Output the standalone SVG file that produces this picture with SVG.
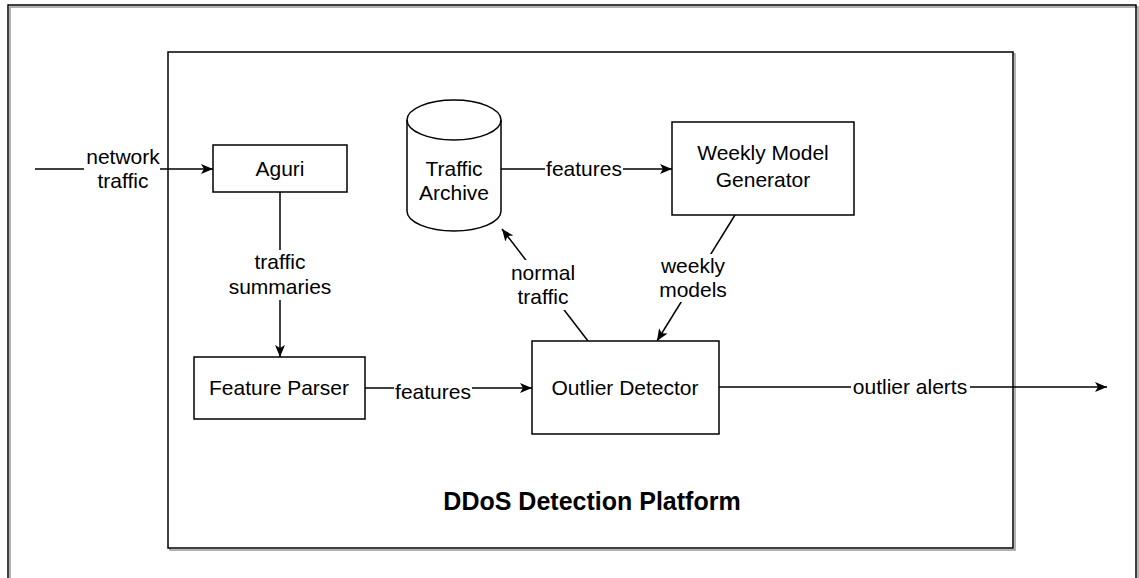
<svg xmlns="http://www.w3.org/2000/svg" width="1139" height="578" viewBox="0 0 1139 578">
<style>
.box{fill:#fff;stroke:#000;stroke-width:1.5}
.frame{fill:none;stroke:#000;stroke-width:1.5}
.shadow{fill:none;stroke:#999;stroke-width:1.5}
.edge{fill:none;stroke:#000;stroke-width:1.5}
.lbg{fill:#fff;stroke:none}
text{font-family:"Liberation Sans",Arial,Helvetica,sans-serif;font-size:21px;fill:#000;text-anchor:middle}
.title{font-weight:bold;font-size:25px}
</style>
<defs>
<marker id="arr" viewBox="0 0 12 10" refX="12" refY="5" markerWidth="12" markerHeight="10" markerUnits="userSpaceOnUse" orient="auto">
<path d="M0,0 L12,5 L0,10 L3,5 Z" fill="#000"/>
</marker>
</defs>
<rect width="1139" height="578" fill="#fff"/>
<g id="outer">
<path class="shadow" d="M10,590 V7 H1138 V590"/>
<path class="frame" d="M8,590 V5 H1136 V590"/>
</g>
<g id="platform">
<rect class="shadow" x="170" y="54" width="845" height="496"/>
<rect class="box" x="168" y="52" width="845" height="496"/>
<text class="title" x="592" y="510">DDoS Detection Platform</text>
</g>
<g id="connectors">
<line class="edge" x1="35" y1="169" x2="213" y2="169" marker-end="url(#arr)"/>
<line class="edge" x1="280" y1="192" x2="280" y2="357" marker-end="url(#arr)"/>
<line class="edge" x1="501" y1="169" x2="672" y2="169" marker-end="url(#arr)"/>
<line class="edge" x1="365" y1="388" x2="532" y2="388" marker-end="url(#arr)"/>
<line class="edge" x1="588" y1="341" x2="502" y2="229" marker-end="url(#arr)"/>
<line class="edge" x1="735" y1="215" x2="657" y2="341" marker-end="url(#arr)"/>
<line class="edge" x1="719" y1="387" x2="1107" y2="387" marker-end="url(#arr)"/>
<rect class="lbg" x="84" y="145" width="76" height="47"/>
<text x="123" y="164">network</text>
<text x="123" y="188">traffic</text>
<rect class="lbg" x="228" y="250" width="104" height="50"/>
<text x="280" y="269">traffic</text>
<text x="280" y="294">summaries</text>
<rect class="lbg" x="545" y="158" width="78" height="22"/>
<text x="584" y="176">features</text>
<rect class="lbg" x="394" y="380" width="78" height="24"/>
<text x="433" y="399">features</text>
<rect class="lbg" x="508" y="260" width="70" height="50"/>
<text x="543" y="280">normal</text>
<text x="543" y="304">traffic</text>
<rect class="lbg" x="655" y="254" width="76" height="48"/>
<text x="693" y="273">weekly</text>
<text x="693" y="297">models</text>
<rect class="lbg" x="851" y="376" width="119" height="22"/>
<text x="910" y="394">outlier alerts</text>
</g>
<g id="aguri">
<rect class="box" x="213" y="145" width="134" height="47"/>
<text x="280" y="176">Aguri</text>
</g>
<g id="traffic-archive">
<path class="box" d="M407,120 A47,20 0 0 1 501,120 V211 A47,20 0 0 1 407,211 Z"/>
<path class="edge" d="M407,120 A47,20 0 0 0 501,120"/>
<text x="454" y="176">Traffic</text>
<text x="454" y="200">Archive</text>
</g>
<g id="weekly-model-generator">
<rect class="box" x="672" y="122" width="182" height="93"/>
<text x="763" y="160">Weekly Model</text>
<text x="763" y="187">Generator</text>
</g>
<g id="feature-parser">
<rect class="box" x="194" y="357" width="171" height="62"/>
<text x="279" y="395">Feature Parser</text>
</g>
<g id="outlier-detector">
<rect class="box" x="532" y="341" width="187" height="93"/>
<text x="625" y="395">Outlier Detector</text>
</g>
</svg>
